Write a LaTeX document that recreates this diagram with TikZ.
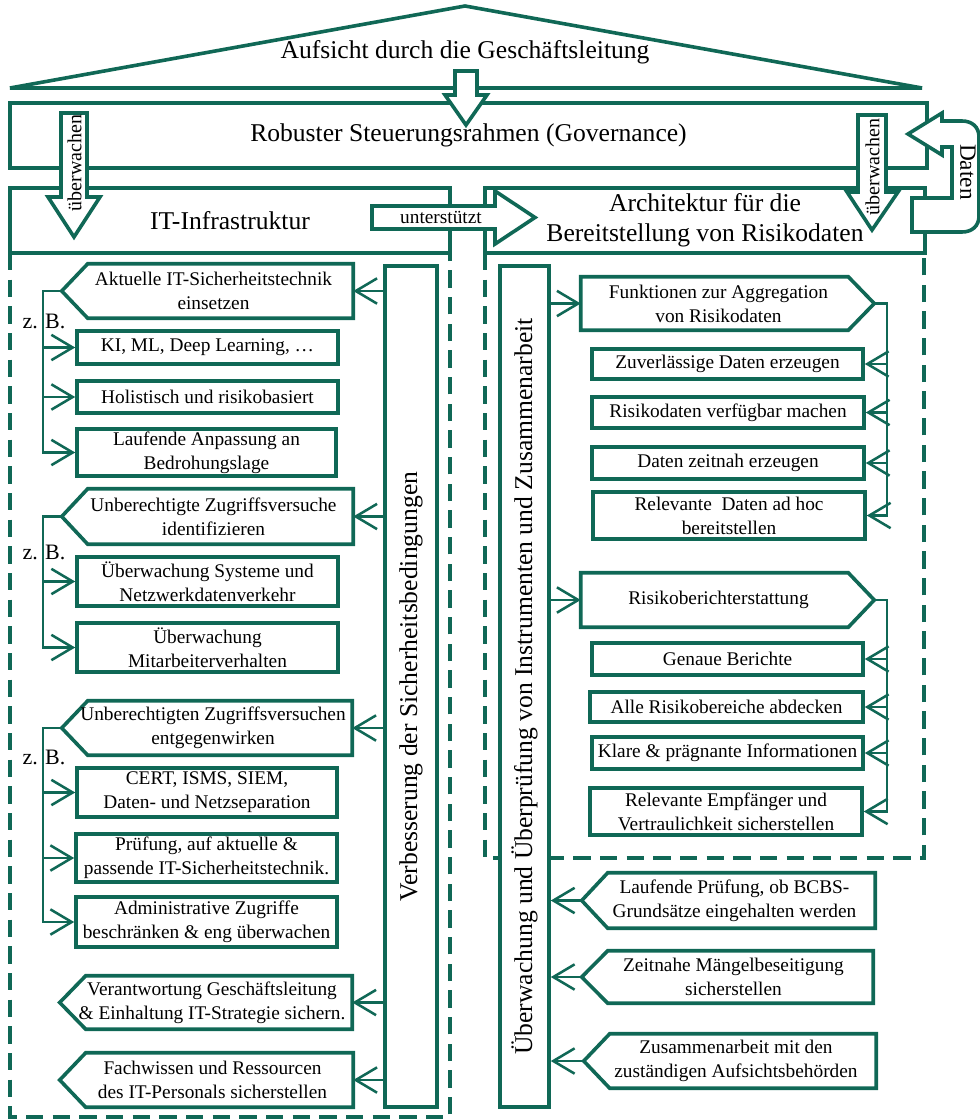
\documentclass[tikz,border=0pt]{standalone}
\usepackage{fontspec}
\setmainfont{Liberation Serif}
\usetikzlibrary{arrows.meta,calc}
\definecolor{gr}{RGB}{16,104,86}
\newcommand\lpent[3]{%
  \coordinate (#1t) at ($(#1.west)+(-#2,0)$);
  \draw[bl,line join=miter] (#1.north west) -- (#1.north east) -- (#1.south east) -- (#1.south west) -- (#1t) -- cycle;
  \node[tx] (#1x) at ($(#1.center)+(-7,0)$) {#3};}
\newcommand\rpent[3]{%
  \coordinate (#1t) at ($(#1.east)+(#2,0)$);
  \draw[bl,line join=miter] (#1.north west) -- (#1.north east) -- (#1t) -- (#1.south east) -- (#1.south west) -- cycle;
  \node[tx] (#1x) at ($(#1.center)+(4,0)$) {#3};}
\begin{document}
\begin{tikzpicture}[x=0.75pt,y=-0.75pt,
  bl/.style={draw=gr,line width=2.7pt},
  tb/.style={bl,fill=white,rectangle,inner sep=0pt,align=center,font=\fontsize{14.5}{18}\selectfont},
  tx/.style={rectangle,inner sep=0pt,align=center,font=\fontsize{14.5}{18}\selectfont},
  big/.style={font=\fontsize{19.2}{22.5}\selectfont},
  sz/.style 2 args={minimum width=#1*0.75pt,minimum height=#2*0.75pt},
  conn/.style={draw=gr,line width=1.7pt},
  arr/.style={conn,-{Straight Barb[length=16pt,width=19pt,line width=1.9pt]}},
  dsh/.style={draw=gr,line width=2.6pt,dash pattern=on 13pt off 7pt},
  blk/.style={bl,fill=white,line join=miter}
]
\useasboundingbox (0,0) rectangle (980,1120);

% roof
\draw[bl,line join=miter] (10,88) -- (465,6) -- (922,88) -- cycle;
\node[tx,big] (roof) at (465,52) {Aufsicht durch die Geschäftsleitung};

% governance
\node[tb,big,sz={917}{65}] (gov) at (468.5,135.5) {Robuster Steuerungsrahmen (Governance)};

% IT box and architecture box
\draw[dsh] (10,253) -- (10,1117) -- (450,1117) -- (450,253);
\draw[dsh] (485,253) -- (485,858) -- (924,858) -- (924,253);
\node[tb,big,sz={440}{65}] (it) at (230,220.5) {IT-Infrastruktur};
\node[tb,big,sz={440}{65}] (arch) at (705,220.5) {Architektur für die\\Bereitstellung von Risikodaten};

% vertical bars
\node[tb,sz={52}{841}] (V) at (411,686.5) {};
\node[tx,big,rotate=90] (Vt) at (V.center) {Verbesserung der Sicherheitsbedingungen};
\node[tb,sz={49}{841}] (U) at (524.5,686.5) {};
\node[tx,big,rotate=90] (Ut) at (U.center) {Überwachung und Überprüfung von Instrumenten und Zusammenarbeit};

% block arrows
\draw[blk] (455,71) -- (477,71) -- (477,95) -- (487,95) -- (466,125) -- (445,95) -- (455,95) -- cycle;
\draw[blk] (61,113) -- (87,113) -- (87,197) -- (100,197) -- (74,237) -- (48,197) -- (61,197) -- cycle;
\node[tx,font=\fontsize{15}{18}\selectfont,rotate=90] (uw1) at (74.5,163) {überwachen};
\draw[blk] (858,115) -- (886,115) -- (886,192) -- (898,192) -- (872,230) -- (847,192) -- (858,192) -- cycle;
\node[tx,font=\fontsize{15}{18}\selectfont,rotate=90] (uw2) at (872.5,167) {überwachen};
\draw[blk] (372,206) -- (495,206) -- (495,191) -- (535,217.5) -- (495,244) -- (495,229) -- (372,229) -- cycle;
\node[tx] (ut) at (441,217) {unterstützt};
\draw[blk] (908,134) -- (942,113) -- (942,121) -- (962,121) .. controls (972,121) and (979,127) .. (979,137)
  -- (979,216) .. controls (979,226) and (972,232) .. (962,232) -- (912,232) -- (912,198) -- (952,198)
  -- (952,147) -- (942,147) -- (942,155) -- cycle;
\node[tx,font=\fontsize{17.5}{18}\selectfont,rotate=-90] (dat) at (968,172) {Daten};

% left column
\node[tx,sz={265}{54}] (L1) at (220.5,291) {};
\lpent{L1}{26}{Aktuelle IT-Sicherheitstechnik\\einsetzen}
\node[tb,sz={261}{33}] (a) at (207.5,347.5) {KI, ML, Deep Learning, …};
\node[tb,sz={261}{32}] (b) at (207.5,397) {Holistisch und risikobasiert};
\node[tb,sz={259}{47}] (c) at (206.5,452.5) {Laufende Anpassung an\\Bedrohungslage};

\node[tx,sz={265}{55}] (L2) at (220.5,516.5) {};
\lpent{L2}{26}{Unberechtigte Zugriffsversuche\\identifizieren}
\node[tb,sz={261}{49}] (d) at (207.5,581.5) {Überwachung Systeme und\\Netzwerkdatenverkehr};
\node[tb,sz={261}{49}] (e) at (207.5,647.5) {Überwachung\\Mitarbeiterverhalten};

\node[tx,sz={264}{54}] (L3) at (220,728) {};
\lpent{L3}{26}{Unberechtigten Zugriffsversuchen\\entgegenwirken}
\node[tb,sz={260}{49}] (f) at (207,792.5) {CERT, ISMS, SIEM,\\Daten- und Netzseparation};
\node[tb,sz={261}{48}] (g) at (206.5,858) {Prüfung, auf aktuelle \&\\passende IT-Sicherheitstechnik.};
\node[tb,sz={261}{50}] (h) at (206.5,922) {Administrative Zugriffe\\beschränken \& eng überwachen};

\node[tx,sz={266}{53}] (L4) at (219,1002.5) {};
\lpent{L4}{26}{Verantwortung Geschäftsleitung\\\& Einhaltung IT-Strategie sichern.}
\node[tx,sz={267}{54}] (L5) at (219.5,1080) {};
\lpent{L5}{26}{Fachwissen und Ressourcen\\des IT-Personals sicherstellen}

\coordinate (lx) at (43,0);
\draw[arr] (L1t) -- (L1t -| lx) |- (c.west);
\draw[arr] (a.west -| lx) -- (a.west);
\draw[arr] (b.west -| lx) -- (b.west);
\draw[arr] (L2t) -- (L2t -| lx) |- (e.west);
\draw[arr] (d.west -| lx) -- (d.west);
\draw[arr] (L3t) -- (L3t -| lx) |- (h.west);
\draw[arr] (f.west -| lx) -- (f.west);
\draw[arr] (g.west -| lx) -- (g.west);
\node[tx,font=\fontsize{16.5}{18}\selectfont] (zb1) at (44,321) {z. B.};
\node[tx,font=\fontsize{16.5}{18}\selectfont] (zb2) at (44,552) {z. B.};
\node[tx,font=\fontsize{16.5}{18}\selectfont] (zb3) at (44,757) {z. B.};

\foreach \n in {L1,L2,L3,L4,L5}{\draw[arr] (\n.east -| V.west) -- (\n.east);}

% right column
\node[tx,sz={267}{53}] (R1) at (714.5,303.5) {};
\rpent{R1}{26}{Funktionen zur Aggregation\\von Risikodaten}
\node[tb,sz={271}{30}] (r1) at (727.5,364) {Zuverlässige Daten erzeugen};
\node[tb,sz={272}{31}] (r2) at (728,412.5) {Risikodaten verfügbar machen};
\node[tb,sz={272}{32}] (r3) at (728,463) {Daten zeitnah erzeugen};
\node[tb,sz={272}{47}] (r4) at (729,515.5) {Relevante\ \ Daten ad hoc\\bereitstellen};

\node[tx,sz={267}{54}] (R2) at (714.5,600) {};
\rpent{R2}{26}{Risikoberichterstattung}
\node[tb,sz={271}{32}] (r5) at (727.5,659) {Genaue Berichte};
\node[tb,sz={273}{30}] (r6) at (726.5,707) {Alle Risikobereiche abdecken};
\node[tb,sz={271}{32}] (r7) at (727.5,753) {Klare \& prägnante Informationen};
\node[tb,sz={272}{47}] (r8) at (726,811.5) {Relevante Empfänger und\\Vertraulichkeit sicherstellen};

\coordinate (rx) at (887,0);
\draw[arr] (R1t) -- (R1t -| rx) |- (r4.east);
\foreach \n in {r1,r2,r3}{\draw[arr] (\n.east -| rx) -- (\n.east);}
\draw[arr] (R2t) -- (R2t -| rx) |- (r8.east);
\foreach \n in {r5,r6,r7}{\draw[arr] (\n.east -| rx) -- (\n.east);}
\foreach \n in {R1,R2}{\draw[arr] (\n.west -| U.east) -- (\n.west);}

\node[tx,sz={267}{55}] (B1) at (741.5,900.5) {};
\lpent{B1}{26}{Laufende Prüfung, ob BCBS-\\Grundsätze eingehalten werden}
\node[tx,sz={265}{52}] (B2) at (740.5,977) {};
\lpent{B2}{26}{Zeitnahe Mängelbeseitigung\\sicherstellen}
\node[tx,sz={266}{54}] (B3) at (743,1061) {};
\lpent{B3}{26}{Zusammenarbeit mit den\\zuständigen Aufsichtsbehörden}
\foreach \n in {B1,B2,B3}{\draw[arr] (\n t) -- (\n t -| U.east);}
\end{tikzpicture}
\end{document}
